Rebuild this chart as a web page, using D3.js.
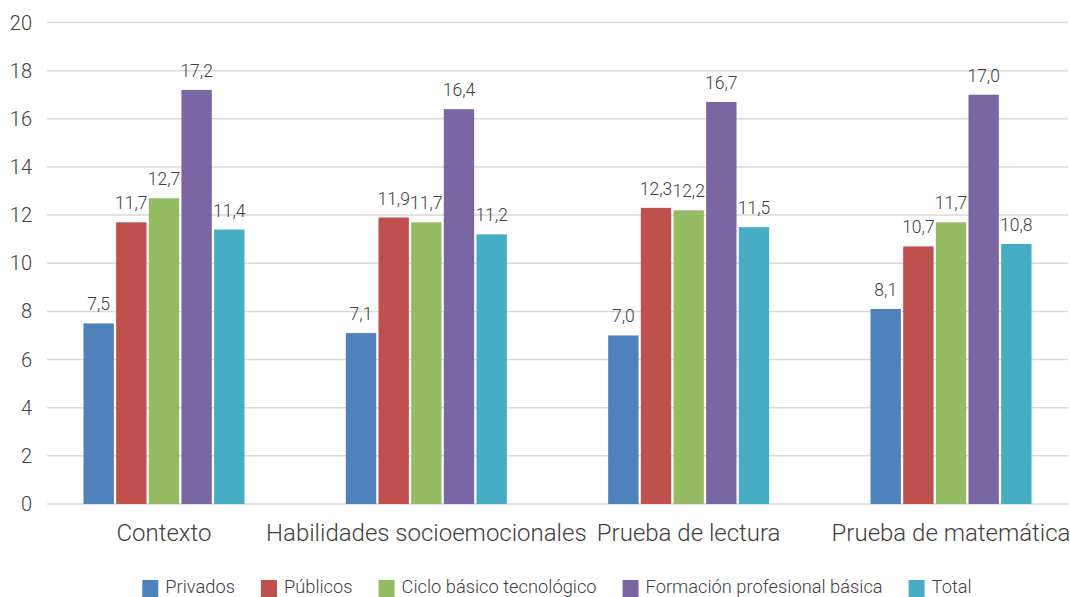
<!DOCTYPE html>
<html><head><meta charset="utf-8">
<script src="https://cdn.jsdelivr.net/npm/d3@7"></script>
<style>
html,body{margin:0;padding:0;background:#fff;}
text{font-family:Roboto,"Noto Sans",sans-serif;font-weight:300;fill:#404040;}
</style></head>
<body><svg id="c" width="1070" height="597"></svg>
<script>
const categories = ["Contexto","Habilidades socioemocionales","Prueba de lectura","Prueba de matemática"];
const seriesNames = ["Privados","Públicos","Ciclo básico tecnológico","Formación profesional básica","Total"];
const privados = [7.5, 7.1, 7.0, 8.1];
const publicos = [11.7, 11.9, 12.3, 10.7];
const ciclo = [12.7, 11.7, 12.2, 11.7];
const formacion = [17.2, 16.4, 16.7, 17.0];
const total = [11.4, 11.2, 11.5, 10.8];
const yTicks = [0,2,4,6,8,10,12,14,16,18,20];
const colors = ["#4F81BD","#C0504D","#94BC62","#7B66A4","#45ADC4"];

const seriesValues = [privados, publicos, ciclo, formacion, total];
const svg = d3.select("#c");
const y = d3.scaleLinear().domain([0,20]).range([504,22.5]);
const x0 = d3.scaleBand().domain(categories).range([32.8,1082.2]).padding(0);
const groupW = 161;
const x1 = d3.scaleBand().domain(seriesNames).range([-groupW/2, groupW/2]).paddingInner(0.07).paddingOuter(0);
const fmt = v => v.toFixed(1).replace(".", ",");

// gridlines
svg.append("g").selectAll("line").data(yTicks).join("line")
  .attr("x1",47).attr("x2",1068)
  .attr("y1",d=>y(d)).attr("y2",d=>y(d))
  .attr("stroke","#d9d9d9").attr("stroke-width",1.5);

// y tick labels
svg.append("g").selectAll("text").data(yTicks).join("text")
  .attr("x",32).attr("y",d=>y(d)).attr("dy","0.35em")
  .attr("text-anchor","end").attr("font-size",20).text(d=>d);

// bars
const groups = svg.append("g").selectAll("g").data(categories).join("g")
  .attr("transform",d=>`translate(${x0(d)+x0.bandwidth()/2},0)`);
groups.each(function(cat, ci){
  const g = d3.select(this);
  const data = seriesNames.map((s,si)=>({s, si, v: seriesValues[si][ci]}));
  g.selectAll("rect").data(data).join("rect")
    .attr("x",d=>x1(d.s)).attr("width",x1.bandwidth())
    .attr("y",d=>y(d.v)).attr("height",d=>y(0)-y(d.v))
    .attr("fill",d=>colors[d.si]);
  g.selectAll("text").data(data).join("text")
    .attr("x",d=>x1(d.s)+x1.bandwidth()/2).attr("y",d=>y(d.v)-13)
    .attr("text-anchor","middle").attr("font-size",17.5).text(d=>fmt(d.v));
});

// category labels
svg.append("g").selectAll("text").data(categories).join("text")
  .attr("x",d=>x0(d)+x0.bandwidth()/2).attr("y",541)
  .attr("text-anchor","middle").attr("font-size",24).text(d=>d);

// legend
const leg = svg.append("g");
let lx = 0;
seriesNames.forEach((s,i)=>{
  const gi = leg.append("g");
  gi.append("rect").attr("x",0).attr("y",580).attr("width",16).attr("height",17).attr("fill",colors[i]);
  const t = gi.append("text").attr("x",23).attr("y",592.5).attr("font-size",18.3).text(s);
  const w = t.node().getComputedTextLength();
  gi.attr("transform",`translate(${lx},0)`);
  lx += 23 + w + 26;
});
const legW = lx - 26;
leg.attr("transform",`translate(${557 - legW/2},0)`);
</script></body></html>
